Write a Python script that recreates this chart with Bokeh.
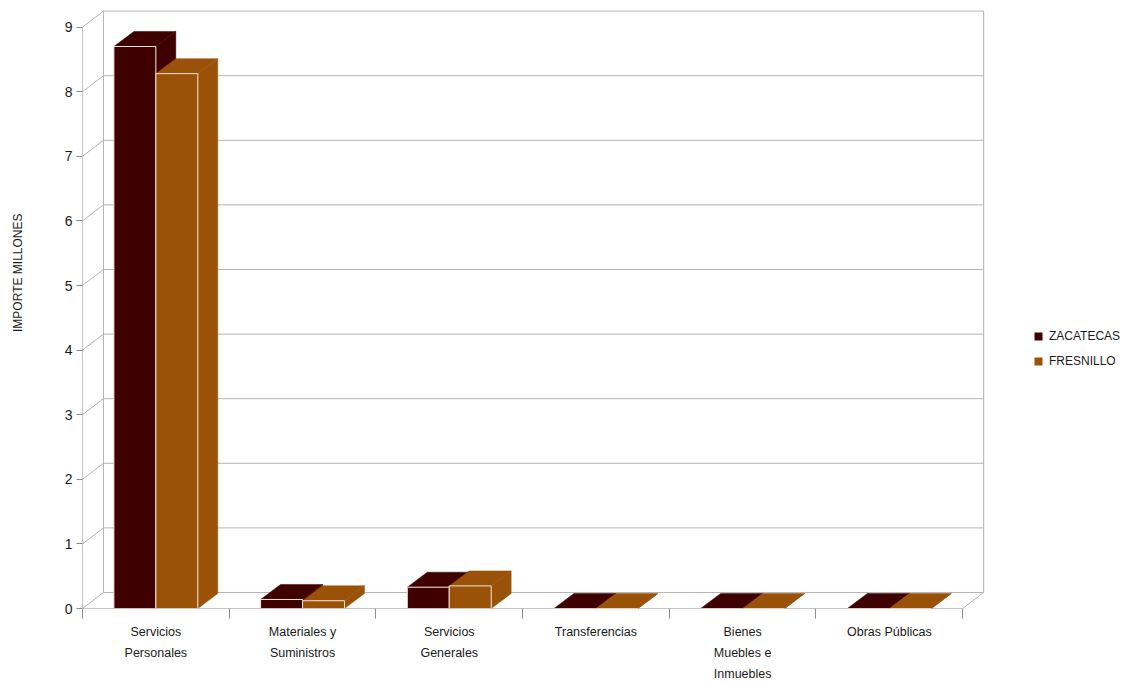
from bokeh.plotting import figure
from bokeh.models import Range1d, FixedTicker, Legend, LegendItem, Title
from bokeh.embed import file_html
from bokeh.resources import INLINE

# ---------------- data ----------------
categories = ["Servicios\nPersonales", "Materiales y\nSuministros", "Servicios\nGenerales",
              "Transferencias", "Bienes\nMuebles e\nInmuebles", "Obras Públicas"]
series_names = ["ZACATECAS", "FRESNILLO"]
zacatecas = [8.70, 0.14, 0.33, 0.0, 0.0, 0.0]
fresnillo = [8.28, 0.12, 0.35, 0.0, 0.0, 0.0]
y_ticks = [0, 1, 2, 3, 4, 5, 6, 7, 8, 9]
y_label = "IMPORTE MILLONES"

# ---------------- styles / geometry ----------------
colors = ["#3F0002", "#9A5108"]
FONT = "Liberation Sans"
BAR_W = 0.286
BDX, BDY = 0.136, 0.232      # bar depth
WDX, WDY = 0.143, 0.248      # wall depth
GRID = "#b4b4b4"
AXC = "#8c8c8c"
TXT = "#1a1a1a"
n = len(categories)
ymax = y_ticks[-1]

p = figure(width=1124, height=683, x_range=Range1d(0, 7.103), y_range=Range1d(0, 9.412),
           output_backend="svg", toolbar_location=None,
           min_border_left=82, min_border_right=0, min_border_top=0, min_border_bottom=75)
p.xgrid.visible = False
p.ygrid.visible = False
p.outline_line_color = None

# ---------- walls ----------
p.segment(x0=[WDX] * len(y_ticks), x1=[n + WDX] * len(y_ticks),
          y0=[t + WDY for t in y_ticks], y1=[t + WDY for t in y_ticks], line_color=GRID, line_width=1)
p.segment(x0=[0] * len(y_ticks), x1=[WDX] * len(y_ticks),
          y0=y_ticks, y1=[t + WDY for t in y_ticks], line_color=GRID, line_width=1)
p.segment(x0=[WDX, n + WDX], x1=[WDX, n + WDX], y0=[WDY, WDY], y1=[ymax + WDY, ymax + WDY],
          line_color=GRID, line_width=1)
p.segment(x0=[n], x1=[n + WDX], y0=[0], y1=[WDY], line_color=GRID, line_width=1)
p.segment(x0=[0, 0], x1=[0, n], y0=[0, 0], y1=[ymax, 0], line_color=AXC, line_width=1)

# ---------- bars ----------
legend_items = []
for s, (vals, col, name) in enumerate(zip([zacatecas, fresnillo], colors, series_names)):
    lefts = [i + 0.5 - BAR_W + s * BAR_W for i in range(n)]
    rights = [l + BAR_W for l in lefts]
    top_xs = [[l, r, r + BDX, l + BDX] for l, r in zip(lefts, rights)]
    top_ys = [[v, v, v + BDY, v + BDY] for v in vals]
    side_xs = [[r, r, r + BDX, r + BDX] for r in rights]
    side_ys = [[0, v, v + BDY, BDY] for v in vals]
    p.patches(xs=side_xs, ys=side_ys, fill_color=col, line_color=col, line_width=0.5)
    p.patches(xs=top_xs, ys=top_ys, fill_color=col, line_color=col, line_width=0.5)
    front = p.quad(left=lefts, right=rights, bottom=[0] * n, top=vals, fill_color=col,
                   line_color=None)
    p.quad(left=lefts, right=rights, bottom=[0] * n, top=vals, fill_color=None,
           line_color="#f3e6d8", line_width=1)
    legend_items.append(LegendItem(label=name, renderers=[front]))

# ---------- axes ----------
yax = p.yaxis[0]
yax.ticker = FixedTicker(ticks=y_ticks)
yax.axis_line_color = None
yax.major_tick_line_color = AXC
yax.major_tick_out = 6
yax.major_tick_in = 0
yax.minor_tick_line_color = None
yax.major_label_standoff = 4
yax.major_label_text_font = FONT
yax.major_label_text_font_size = "14px"
yax.major_label_text_color = TXT
yax.axis_label = " "
yax.axis_label_standoff = 6
yax.axis_label_text_font_size = "14px"

xax = p.xaxis[0]
xax.ticker = FixedTicker(ticks=[i + 0.5 for i in range(n)], minor_ticks=list(range(n + 1)))
xax.major_label_overrides = {i + 0.5: c for i, c in enumerate(categories)}
xax.axis_line_color = None
xax.major_tick_out = 0
xax.major_tick_in = 0
xax.minor_tick_out = 10
xax.minor_tick_in = 0
xax.minor_tick_line_color = AXC
xax.major_label_standoff = 6
xax.major_label_text_font = FONT
xax.major_label_text_font_size = "12.5px"
xax.major_label_text_line_height = 1.5
xax.major_label_text_color = TXT

p.add_layout(Title(text=y_label, align="right", offset=213, vertical_align="top", standoff=20,
                   text_font=FONT, text_font_size="12px", text_font_style="normal",
                   text_color=TXT), "left")

legend = Legend(items=legend_items, location=(951, 240), margin=0, padding=0,
                glyph_width=10, glyph_height=10, label_height=14, spacing=11,
                label_standoff=6, label_text_font=FONT, label_text_font_size="12px",
                label_text_color=TXT, border_line_color=None, background_fill_alpha=0)
p.add_layout(legend)

open("out.html", "w").write(file_html(p, INLINE))
